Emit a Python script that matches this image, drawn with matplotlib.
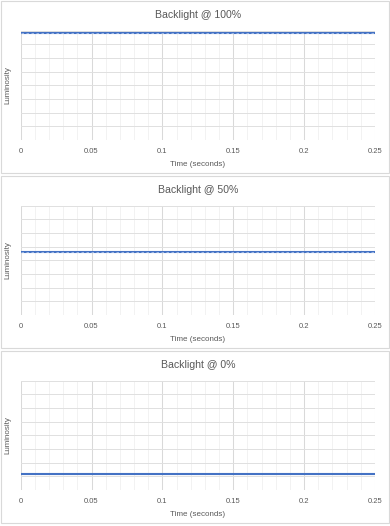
import matplotlib
matplotlib.use("Agg")
import matplotlib.pyplot as plt
from matplotlib.patches import Rectangle
from matplotlib.ticker import MultipleLocator

# Data (luminosity in arbitrary units, 0-8 scale)
time_s = [0.0, 0.25]
titles = ["Backlight @ 100%", "Backlight @ 50%", "Backlight @ 0%"]
lum_100 = [7.8, 7.8]
lum_50 = [4.6, 4.6]
lum_0 = [1.2, 1.2]
x_ticks = [0, 0.05, 0.1, 0.15, 0.2, 0.25]
x_tick_labels = ["0", "0.05", "0.1", "0.15", "0.2", "0.25"]

series = [lum_100, lum_50, lum_0]
dashed_overlay = [True, True, False]

plt.rcParams['font.family'] = ['Liberation Sans', 'DejaVu Sans']
TEXT = '#595959'
LINE = '#4472C4'
W, H = 390, 526

fig = plt.figure(figsize=(W / 100, H / 100), dpi=100)
fig.patch.set_facecolor('white')

panel_top = [0, 175, 350]
for i, (vals, title) in enumerate(zip(series, titles)):
    y0 = panel_top[i]
    # panel frame
    fig.add_artist(Rectangle((1 / W, 1 - (y0 + 173) / H), (W - 2) / W, 172 / H,
                             transform=fig.transFigure, fill=False,
                             edgecolor='#d9d9d9', linewidth=0.8))
    top = y0 + 30.7
    bottom = y0 + 140
    ax = fig.add_axes([20.7 / W, 1 - bottom / H, (375 - 20.7) / W, (bottom - top) / H])
    ax.set_xlim(0, 0.25)
    ax.set_ylim(0, 8)
    ax.xaxis.set_major_locator(MultipleLocator(0.05))
    ax.xaxis.set_minor_locator(MultipleLocator(0.01))
    ax.yaxis.set_major_locator(MultipleLocator(1))
    ax.grid(which='major', axis='x', color='#d9d9d9', linewidth=0.75)
    ax.grid(which='minor', axis='x', color='#f0f0f0', linewidth=0.6)
    ax.grid(which='major', axis='y', color='#e0e0e0', linewidth=0.7)
    ax.set_axisbelow(True)
    for s in ax.spines.values():
        s.set_visible(False)
    ax.set_xticks(x_ticks)
    ax.set_xticklabels(x_tick_labels)
    ax.set_yticklabels([])
    ax.tick_params(which='both', length=0, colors=TEXT, labelsize=5.5, pad=6)

    ax.plot(time_s, vals, color=LINE, linewidth=1.5, solid_capstyle='butt')
    if dashed_overlay[i]:
        ax.plot(time_s, vals, color='#a9bfe6', linewidth=0.6, dashes=(3, 3))

    ax.set_xlabel('Time (seconds)', color=TEXT, fontsize=5.8, labelpad=4)
    ax.set_ylabel('Luminosity', color=TEXT, fontsize=5.8, labelpad=1)
    ax.set_title(title, color=TEXT, fontsize=7.6, pad=9)

fig.savefig('out.png', dpi=100, facecolor='white')
